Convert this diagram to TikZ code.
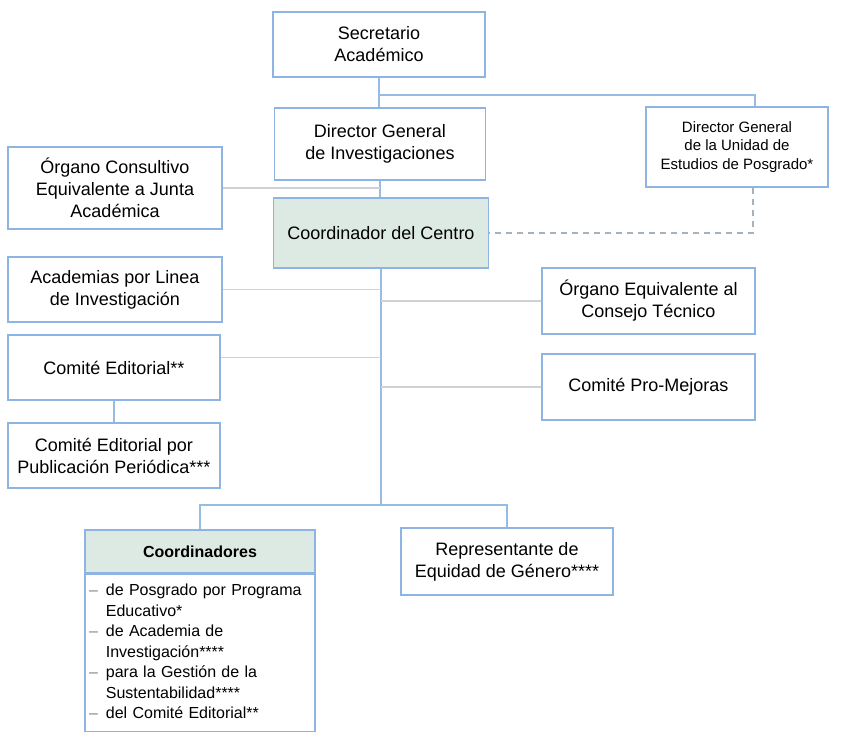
\documentclass[tikz,border=0pt]{standalone}
\usepackage{fontspec}
\setmainfont{Liberation Sans}
\usetikzlibrary{positioning}
\definecolor{boxblue}{RGB}{141,180,226}
\definecolor{linkblue}{RGB}{150,188,228}
\definecolor{sidegray}{RGB}{206,209,213}
\definecolor{dashgray}{RGB}{165,178,188}
\definecolor{centrefill}{RGB}{221,233,227}
\newcommand{\boxfont}{\fontsize{18}{22}\selectfont}
\newcommand{\listdash}{\textcolor{gray}{--}}

\begin{document}
\begin{tikzpicture}[x=1pt,y=-1pt,
  orgbox/.style={draw=boxblue,line width=1.5pt,align=center,inner sep=2pt,font=\boxfont},
  link/.style={draw=linkblue,line width=1.3pt},
  sidelink/.style={draw=sidegray,line width=1.3pt},
  duallink/.style={draw=dashgray,line width=1.3pt,dash pattern=on 6pt off 5pt}]
\tikzstyle{shaded}=[fill=centrefill]
\useasboundingbox (0,0) rectangle (841,732);
\node[orgbox,minimum width=212pt,minimum height=65pt] (sec) at (379,44.5) {Secretario\\Académico};
\node[orgbox,minimum width=211pt,minimum height=72pt] (dgi) at (380,144) {Director General\\de Investigaciones};
\node[orgbox,minimum width=182pt,minimum height=80pt,font=\fontsize{15}{18.3}\selectfont] (dgu) at (737,147) {Director General\\de la Unidad de\\Estudios de Posgrado*};
\node[orgbox,minimum width=214pt,minimum height=82pt] (oc) at (115,188) {Órgano Consultivo\\Equivalente a Junta\\Académica};
\node[orgbox,shaded,minimum width=215pt,minimum height=70pt] (cc) at (381,233) {Coordinador del Centro};
\node[orgbox,minimum width=214pt,minimum height=65pt] (acad) at (115,289.5) {Academias por Linea\\de Investigación};
\node[orgbox,minimum width=212pt,minimum height=65pt] (ced) at (114,367.5) {Comité Editorial**};
\node[orgbox,minimum width=212pt,minimum height=65pt] (cedp) at (114,455.5) {Comité Editorial por\\Publicación Periódica***};
\node[orgbox,minimum width=213pt,minimum height=66pt] (oe) at (648.5,301) {Órgano Equivalente al\\Consejo Técnico};
\node[orgbox,minimum width=213pt,minimum height=66pt] (cpm) at (648.5,387) {Comité Pro-Mejoras};
\node[orgbox,shaded,minimum width=230pt,minimum height=43pt,font=\fontsize{16}{19}\selectfont\bfseries] (coordhd) at (200,551.5) {Coordinadores};
\node[orgbox,below=0pt of coordhd,text width=222pt,inner xsep=4pt,minimum height=157pt,align=left,font=\fontsize{16}{20.5}\selectfont] (coordlist) {\noindent\begin{tabular}{@{}l@{\hspace{8pt}}l@{}}
\listdash & de Posgrado por Programa\\
 & Educativo*\\
\listdash & de Academia de\\
 & Investigación****\\
\listdash & para la Gestión de la\\
 & Sustentabilidad****\\
\listdash & del Comité Editorial**
\end{tabular}};
\node[orgbox,minimum width=212pt,minimum height=67pt] (rep) at (507,561.5) {Representante de\\Equidad de Género****};
\coordinate (topjoin) at (379,95);
\coordinate (lowjoin) at (381,505);
\draw[link] (sec.south) -- (sec.south |- dgi.north);
\draw[link] (topjoin) -| ([xshift=18pt]dgu.north);
\draw[link] (dgi.south) -- (dgi.south |- cc.north);
\draw[sidelink] (oc.east) -- (oc.east -| dgi.south);
\draw[duallink] ([xshift=16pt]dgu.south) |- (cc.east);
\draw[link] (cc.south) -- (lowjoin);
\draw[sidelink] (acad.east) -- (acad.east -| cc.south);
\draw[sidelink] ([yshift=10pt]ced.east) -- ([yshift=10pt]ced.east -| cc.south);
\draw[sidelink] (oe.west) -- (oe.west -| cc.south);
\draw[sidelink] (cpm.west) -- (cpm.west -| cc.south);
\draw[link] (ced.south) -- (cedp.north);
\draw[link] (lowjoin) -| (coordhd.north);
\draw[link] (lowjoin) -| (rep.north);
\end{tikzpicture}
\end{document}
